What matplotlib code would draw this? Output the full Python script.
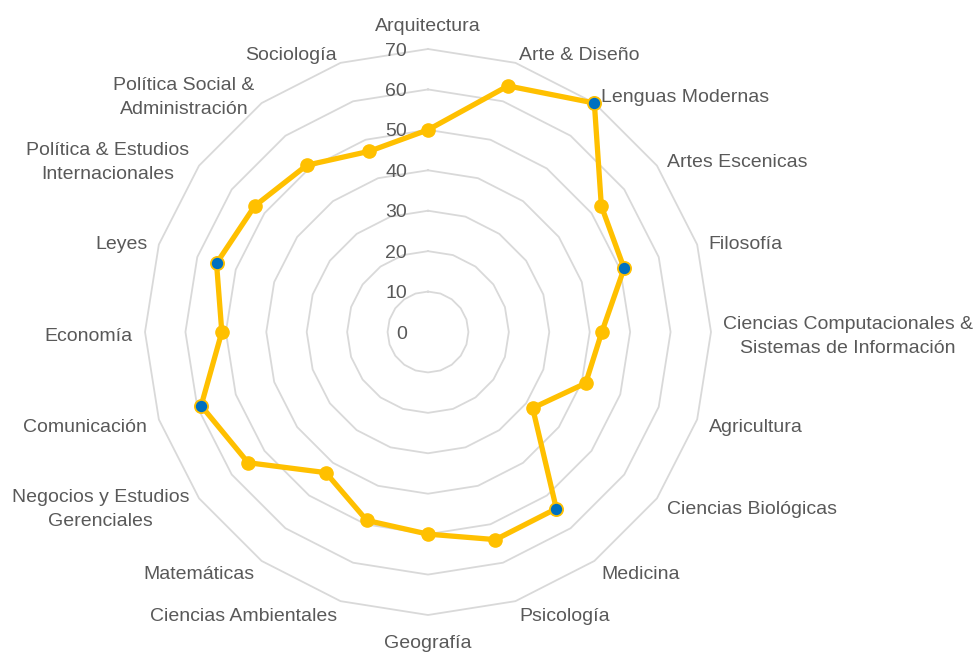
import numpy as np
import matplotlib
matplotlib.use("Agg")
import matplotlib.pyplot as plt

categories = ["Arquitectura", "Arte & Diseño", "Lenguas Modernas", "Artes Escenicas",
              "Filosofía", "Ciencias Computacionales &\nSistemas de Información",
              "Agricultura", "Ciencias Biológicas", "Medicina", "Psicología",
              "Geografía", "Ciencias Ambientales", "Matemáticas",
              "Negocios y Estudios\nGerenciales", "Comunicación", "Economía", "Leyes",
              "Política & Estudios\nInternacionales", "Política Social &\nAdministración",
              "Sociología"]
values = [50, 64, 70, 53, 51, 43, 41, 32, 54, 54, 50, 49, 43, 55, 59, 51, 55, 53, 51, 47]
highlighted = ["Lenguas Modernas", "Filosofía", "Medicina", "Comunicación", "Leyes"]
ticks = [0, 10, 20, 30, 40, 50, 60, 70]

plt.rcParams['font.family'] = ['Liberation Sans', 'DejaVu Sans']
TXT = '#595959'
FS = 14
W, H = 976, 653
fig = plt.figure(figsize=(W / 100, H / 100), dpi=100)
cx, cy, R = 428, 332, 283
ax = fig.add_axes([(cx - R) / W, (H - cy - R) / H, 2 * R / W, 2 * R / H], projection='polar')
ax.set_theta_zero_location('N')
ax.set_theta_direction(-1)
ax.set_ylim(0, 70)
ax.axis('off')

n = len(categories)
theta = np.arange(n) * 2 * np.pi / n
tc = np.append(theta, theta[0])

for t in ticks[1:]:
    ax.plot(tc, [t] * (n + 1), color='#d9d9d9', lw=1.3, zorder=1, clip_on=False)

# tick labels
for t in ticks:
    ax.annotate(str(t), xy=(0, t), xycoords='data', xytext=(-15, -1.5), textcoords='offset points',
                ha='right', va='center', fontsize=FS, color=TXT, annotation_clip=False)

vc = np.append(values, values[0])
ax.plot(tc, vc, color='#FFC000', lw=3.8, zorder=3, clip_on=False, solid_joinstyle='round')
for th, v, c in zip(theta, values, categories):
    if c in highlighted:
        ax.plot(th, v, 'o', ms=9.5, mfc='#0070C0', mec='#FFC000', mew=1.3, zorder=4, clip_on=False)
    else:
        ax.plot(th, v, 'o', ms=9.5, mfc='#FFC000', mec='#FFC000', zorder=4, clip_on=False)

for th, c in zip(theta, categories):
    s, co = np.sin(th), np.cos(th)
    if abs(s) < 0.1:
        ha = 'center'
        va = 'bottom' if co > 0 else 'top'
    else:
        ha = 'left' if s > 0 else 'right'
        va = 'center'
    r = 73 if abs(s) >= 0.1 else (74.5 if co > 0 else 74)
    ax.annotate(c, xy=(th, r), xycoords='data', xytext=(0, -3), textcoords='offset points',
                ha=ha, va=va, fontsize=FS, color=TXT, multialignment='center', linespacing=1.55,
                annotation_clip=False)

fig.savefig('out.png', dpi=100)
